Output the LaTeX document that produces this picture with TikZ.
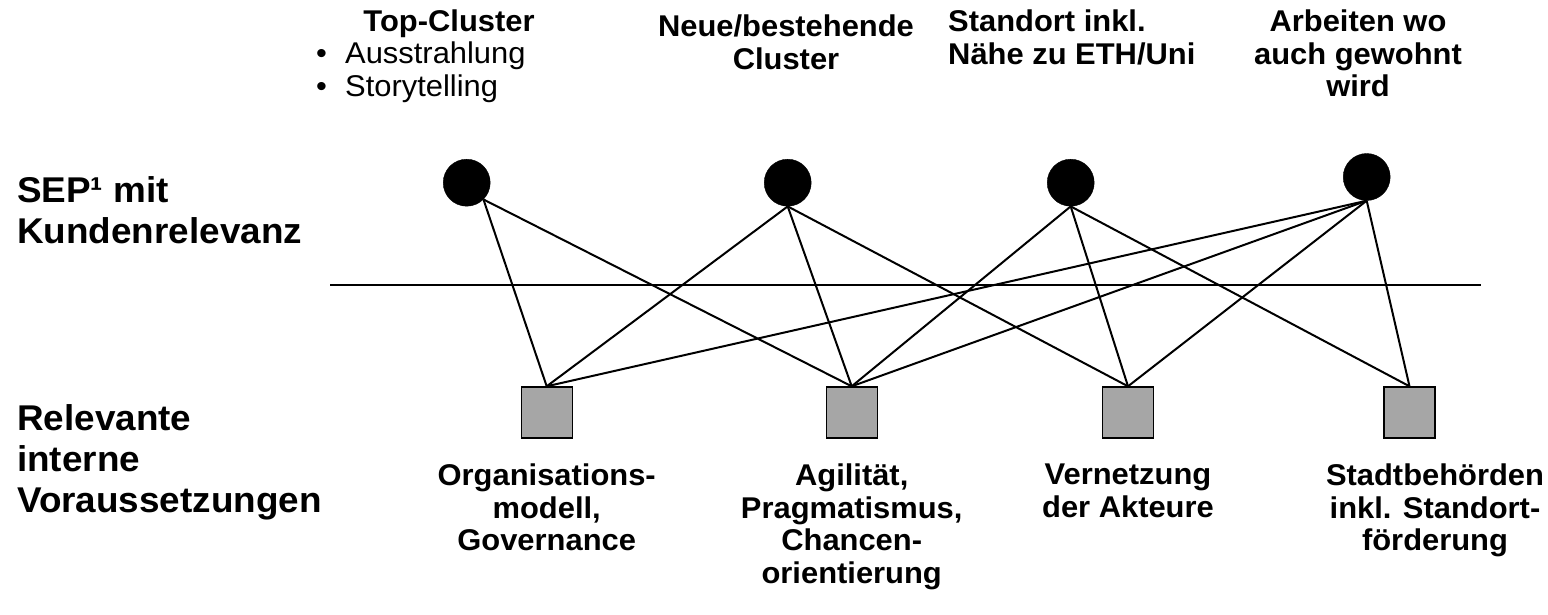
\documentclass[tikz,border=0pt]{standalone}
\usepackage{fontspec}
\setmainfont{Liberation Sans}[FakeStretch=1.03]
\definecolor{boxgray}{HTML}{A6A6A6}
\begin{document}
\begin{tikzpicture}[x=1pt,y=-1pt,
  dot/.style={circle,fill=black,draw=black,minimum size=47pt,inner sep=0pt},
  sq/.style={rectangle,fill=boxgray,draw=black,line width=1.4pt,minimum size=51pt,inner sep=0pt},
  link/.style={line width=2pt},
  side/.style={font=\fontsize{35.8}{41}\selectfont\bfseries,align=left,anchor=north west,inner sep=0pt},
  lab/.style={font=\fontsize{30}{32.5}\selectfont\bfseries,align=center,anchor=north,inner sep=0pt},
  plain/.style={font=\fontsize{30}{32.5}\selectfont,anchor=base west,inner sep=0pt}]
\useasboundingbox (0,0) rectangle (1548,615);
% circles
\node[dot] (c1) at (466.7,182.7) {};
\node[dot] (c2) at (787.7,182.7) {};
\node[dot] (c3) at (1070.7,182.7) {};
\node[dot] (c4) at (1366.7,177) {};
% squares
\node[sq] (s1) at (546.7,412.5) {};
\node[sq] (s2) at (851.7,412.5) {};
\node[sq] (s3) at (1128,412.5) {};
\node[sq] (s4) at (1409.5,412.5) {};
% separator
\coordinate (hl) at (330,285.3);
\coordinate (hr) at (1481,285.3);
\draw[link] (hl) -- (hr);
% connectors
\draw[link] (c1.-45) -- (s1.north);
\draw[link] (c1.-45) -- (s2.north);
\draw[link] (c2.south) -- (s1.north);
\draw[link] (c2.south) -- (s2.north);
\draw[link] (c2.south) -- (s3.north);
\draw[link] (c3.south) -- (s2.north);
\draw[link] (c3.south) -- (s3.north);
\draw[link] (c3.south) -- (s4.north);
\draw[link] (c4.south) -- (s1.north);
\draw[link] (c4.south) -- (s2.north);
\draw[link] (c4.south) -- (s3.north);
\draw[link] (c4.south) -- (s4.north);
% side labels
\node[side] (lsep) at (17,176) {SEP¹ mit\\Kundenrelevanz};
\node[side] (lrel) at (17,404) {Relevante\\interne\\Voraussetzungen};
% top labels
\node[lab] (t1) at (449,10) {Top-Cluster};
\node[plain] (b1) at (316,64) {•};
\node[plain] (i1) at (345,64) {Ausstrahlung};
\node[plain] (b2) at (316,96.5) {•};
\node[plain] (i2) at (345,96.5) {Storytelling};
\node[lab] (t2) at (786,15) {Neue/bestehende\\Cluster};
\node[lab,align=left,anchor=north west] (t3) at (948,10) {Standort inkl.\\Nähe zu ETH/Uni};
\node[lab] (t4) at (1358,10) {Arbeiten wo\\auch gewohnt\\wird};
% bottom labels
\node[lab] (u1) at (546.7,464) {Organisations-\\modell,\\Governance};
\node[lab] (u2) at (851.7,464) {Agilität,\\Pragmatismus,\\Chancen-\\orientierung};
\node[lab] (u3) at (1128,464) {Vernetzung\\der Akteure};
\node[lab] (u4) at (1435,464) {Stadtbehörden\\inkl. Standort-\\förderung};
\end{tikzpicture}
\end{document}
